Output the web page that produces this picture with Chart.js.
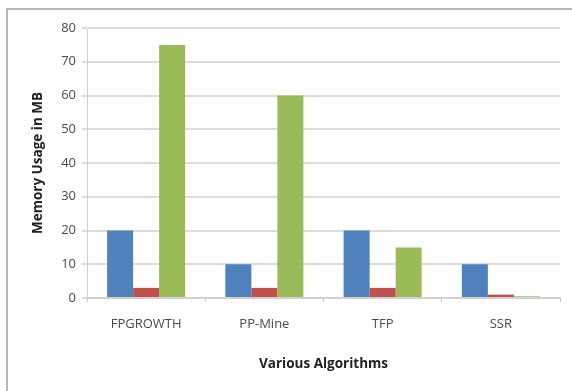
<!DOCTYPE html>
<html>
<head>
<meta charset="utf-8">
<script src="https://cdn.jsdelivr.net/npm/chart.js@4/dist/chart.umd.min.js"></script>
<style>
  html, body { margin: 0; padding: 0; background: #fff; overflow: hidden; }
  #wrap { position: relative; width: 572px; height: 391px; }
  #frame { position: absolute; left: 6px; top: 8px; width: 600px; height: 420px; border-top: 2px solid #b8b8b8; border-left: 2px solid #b8b8b8; box-sizing: border-box; }
  canvas { position: absolute; left: 0; top: 0; }
</style>
</head>
<body>
<div id="wrap">
  <div id="frame"></div>
  <canvas id="c" width="572" height="391"></canvas>
</div>
<script>
const categories = ["FPGROWTH", "PP-Mine", "TFP", "SSR"];
const seriesA = [20, 10, 20, 10];
const seriesB = [3, 3, 3, 1];
const seriesC = [75, 60, 15, 0.5];
const yTicks = [0, 10, 20, 30, 40, 50, 60, 70, 80];
const xTitle = "Various Algorithms";
const yTitle = "Memory Usage in MB";

const FONT = "'Open Sans', 'Liberation Sans', sans-serif";

new Chart(document.getElementById('c'), {
  type: 'bar',
  data: {
    labels: categories,
    datasets: [
      { label: 'A', data: seriesA, backgroundColor: '#4F81BD' },
      { label: 'B', data: seriesB, backgroundColor: '#C0504D' },
      { label: 'C', data: seriesC, backgroundColor: '#9BBB59' }
    ]
  },
  options: {
    responsive: false,
    animation: false,
    layout: { padding: { left: 0, right: 12, top: 28, bottom: 0 } },
    datasets: { bar: { categoryPercentage: 0.66, barPercentage: 1.0 } },
    plugins: { legend: { display: false }, tooltip: { enabled: false } },
    scales: {
      x: {
        grid: { drawOnChartArea: false, drawTicks: true, tickLength: 4, color: '#c8c8c8', lineWidth: 1 },
        border: { color: '#d0d0d0', width: 2 },
        ticks: { color: '#4a4a4a', padding: 14, font: { family: FONT, size: 13 } },
        title: { display: true, text: xTitle, color: '#222', font: { family: FONT, size: 13.5, weight: 'bold' }, padding: { top: 0, bottom: 19 } },
        afterFit: (s) => { s.height = 93; }
      },
      y: {
        min: 0, max: 80,
        afterBuildTicks: (s) => { s.ticks = yTicks.map(v => ({ value: v })); },
        grid: { color: '#dcdcdc', lineWidth: 2, tickLength: 5 },
        border: { color: '#d0d0d0', width: 1 },
        ticks: { color: '#4a4a4a', padding: 6, font: { family: FONT, size: 13 } },
        title: { display: true, text: yTitle, color: '#222', font: { family: FONT, size: 13.5, weight: 'bold' }, padding: { top: 30 } },
        afterFit: (s) => { s.width = 87; }
      }
    }
  }
});
</script>
</body>
</html>
